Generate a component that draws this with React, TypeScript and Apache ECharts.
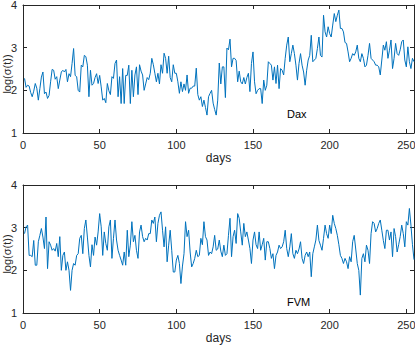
import React, { useEffect, useRef } from 'react';
import * as echarts from 'echarts';

const daxValues = [
  2.28,2.07,2.12,2.1,1.95,1.85,1.98,2.16,2.05,1.77,
  2.04,2.31,2.43,1.92,1.96,1.81,1.88,2.2,2.49,2.47,
  2.26,2.32,2.04,2.24,2.43,2.47,2.43,2.49,2.2,2.39,
  2.32,2.63,2.98,2.35,2.32,2.0,1.96,2.59,2.55,2.82,
  2.79,2.59,1.85,2.47,2.12,2.16,2.3,2.39,2.16,2.35,
  2.08,1.77,1.81,1.71,2.16,1.99,1.9,2.32,2.28,2.63,
  2.71,1.85,2.32,1.69,2.51,1.69,2.35,2.35,2.59,1.69,
  2.47,1.85,2.36,2.55,1.9,2.6,2.45,2.36,2.0,2.15,
  2.3,2.25,2.4,2.75,2.6,2.4,2.2,2.4,2.15,2.6,
  2.4,2.87,2.75,2.4,2.8,2.3,2.2,2.6,2.4,2.4,
  2.2,1.93,2.2,1.97,2.15,2.0,2.36,1.93,2.05,2.05,
  2.1,2.1,2.52,1.9,1.77,1.85,1.62,1.77,1.6,1.42,
  1.85,1.93,2.0,1.7,1.55,1.42,1.77,2.64,2.15,2.55,
  2.55,1.83,2.99,2.95,3.2,2.55,2.75,2.75,2.7,2.2,
  2.45,2.2,2.15,2.3,2.15,2.3,2.4,1.97,2.63,2.9,
  2.2,1.92,2.0,2.04,2.04,1.69,2.24,2.0,2.12,2.67,
  2.63,2.59,2.24,2.55,2.16,2.59,2.04,2.51,2.47,2.36,
  2.75,3.06,3.25,2.67,2.86,3.06,2.86,2.59,2.24,2.63,
  2.86,2.59,2.43,2.12,2.47,2.71,2.82,3.29,2.67,2.71,
  2.75,2.98,3.25,2.82,2.78,3.76,3.37,3.25,3.49,3.33,
  3.25,3.53,3.8,3.61,3.76,3.88,3.45,3.45,3.37,3.12,
  3.1,2.9,2.67,2.75,2.86,2.82,2.9,3.06,2.75,2.67,
  2.86,2.75,2.55,2.59,2.82,3.1,2.75,2.71,2.67,2.59,
  2.59,2.55,2.36,2.71,3.06,2.94,3.14,2.75,2.94,3.18,
  2.51,2.75,3.1,2.86,2.82,2.95,3.14,3.18,2.71,2.55,
  3.02,2.67,2.51,2.75,2.67,
];

const fvmValues = [
  2.86,3.02,3.06,2.35,2.35,2.32,2.7,2.12,2.12,2.67,
  2.82,2.98,2.78,2.51,3.25,2.04,2.67,2.59,2.47,2.51,
  2.45,2.63,2.32,2.79,2.0,2.35,2.43,2.0,2.2,2.0,
  1.53,2.0,2.16,2.12,2.35,2.39,2.75,2.82,2.39,2.98,
  3.18,2.78,2.35,2.08,2.6,2.35,2.78,2.59,2.9,3.33,
  3.02,2.35,2.9,2.63,2.47,3.02,3.18,2.28,2.75,3.18,
  2.71,2.47,2.35,2.24,2.12,2.43,2.12,2.94,2.32,2.59,
  3.14,2.67,2.82,2.47,2.28,2.9,3.06,2.79,2.67,2.75,
  2.71,2.86,2.86,3.18,3.1,3.25,2.67,3.1,3.29,3.37,
  2.94,2.55,3.02,2.2,2.59,2.94,2.47,1.96,1.96,2.24,
  2.35,2.16,1.69,2.1,2.39,3.14,2.79,2.94,2.43,2.08,
  2.16,2.28,2.47,2.32,2.35,2.75,2.6,3.14,2.79,2.71,
  2.35,2.43,2.39,2.55,2.82,2.47,2.5,2.71,2.45,2.32,
  2.59,2.35,2.39,2.82,3.22,2.32,2.79,2.94,2.63,3.33,
  3.22,2.9,2.59,3.1,2.79,2.9,2.71,2.51,2.16,2.71,
  2.9,2.6,2.51,2.9,2.47,2.6,2.75,2.24,2.67,2.67,
  2.51,2.28,2.39,2.04,2.35,2.43,2.59,2.51,2.55,2.67,
  2.94,2.51,2.32,2.55,2.86,2.39,2.28,2.47,2.39,2.5,
  2.67,2.28,2.16,2.35,2.43,2.32,2.43,1.85,2.39,2.55,
  2.71,3.06,2.7,2.59,2.47,2.75,3.06,2.86,2.75,3.06,
  2.86,3.29,3.1,2.98,2.82,2.6,2.35,2.28,2.16,2.28,
  2.2,2.04,2.32,2.2,2.67,2.82,2.5,2.16,2.0,1.42,
  2.28,2.39,2.2,2.59,2.47,2.16,2.86,3.14,3.1,2.9,
  2.98,3.1,3.18,2.94,2.7,2.51,2.94,2.94,2.71,2.9,
  2.32,2.98,2.79,2.43,2.6,2.79,3.06,2.86,2.55,3.14,
  3.06,3.45,3.06,2.6,2.25,
];

const panelNames = ['Dax', 'FVM'];
const xAxisName = 'days';
const yAxisName = 'log(σ(t))';
const xRange = [0, 255];
const yRange = [1, 4];

const FONT = '"Liberation Sans", Arial, Helvetica, sans-serif';
const AXIS_COLOR = '#262626';
const LINE_COLOR = '#0072BD';

export default function App() {
  const ref = useRef<HTMLDivElement>(null);

  useEffect(() => {
    if (!ref.current) return;
    const chart = echarts.init(ref.current, null, { renderer: 'svg' });
    const seriesData = [daxValues, fvmValues];
    const grids = [
      { left: 23, top: 5, width: 391, height: 128, containLabel: false, outerBoundsMode: 'none' },
      { left: 23, top: 185, width: 391, height: 128, containLabel: false, outerBoundsMode: 'none' },
    ];

    const xAxes: any[] = [];
    const yAxes: any[] = [];
    const series: any[] = [];
    const graphics: any[] = [];
    const axisLine = { show: true, onZero: false, lineStyle: { color: AXIS_COLOR, width: 1 } };
    const axisTick = { show: true, inside: true, length: 4, lineStyle: { color: AXIS_COLOR } };

    grids.forEach((gr, g) => {
      xAxes.push({
        gridIndex: g, type: 'value', position: 'bottom',
        min: xRange[0], max: xRange[1], interval: 50,
        axisLine, axisTick,
        axisLabel: { color: AXIS_COLOR, fontSize: 11, fontFamily: FONT, margin: 6, showMaxLabel: false,
          formatter: (v: number) => (v % 50 === 0 ? String(v) : '') },
        splitLine: { show: false },
        name: xAxisName, nameLocation: 'middle', nameGap: 19,
        nameTextStyle: { color: AXIS_COLOR, fontSize: 12, fontFamily: FONT },
      });
      xAxes.push({
        gridIndex: g, type: 'value', position: 'top',
        min: xRange[0], max: xRange[1], interval: 50,
        axisLine, axisTick, axisLabel: { show: false }, splitLine: { show: false },
      });
      yAxes.push({
        gridIndex: g, type: 'value', position: 'left',
        min: yRange[0], max: yRange[1], interval: 1,
        axisLine, axisTick,
        axisLabel: { color: AXIS_COLOR, fontSize: 11, fontFamily: FONT, margin: 6 },
        splitLine: { show: false },
      });
      yAxes.push({
        gridIndex: g, type: 'value', position: 'right',
        min: yRange[0], max: yRange[1], interval: 1,
        axisLine, axisTick, axisLabel: { show: false }, splitLine: { show: false },
      });
      series.push({
        type: 'line', name: panelNames[g],
        xAxisIndex: 2 * g, yAxisIndex: 2 * g,
        data: seriesData[g].map((v, i) => [i + 1, v]),
        showSymbol: false, symbol: 'none',
        lineStyle: { color: LINE_COLOR, width: 1 },
        itemStyle: { color: LINE_COLOR },
        clip: true,
      });
      graphics.push({
        type: 'group', x: 6.5, y: gr.top + gr.height / 2 + 5, rotation: Math.PI / 2,
        children: [{
          type: 'text', x: 0, y: 0,
          style: { text: yAxisName, fill: AXIS_COLOR, font: `11px ${FONT}`, align: 'center', verticalAlign: 'middle' },
        }],
      });
      graphics.push({
        type: 'text', x: 287, y: gr.top + (g === 0 ? 109 : 117),
        style: { text: panelNames[g], fill: '#000', font: `11px ${FONT}`, align: 'left', verticalAlign: 'middle' },
      });
    });

    chart.setOption({
      animation: false,
      backgroundColor: '#ffffff',
      grid: grids,
      xAxis: xAxes,
      yAxis: yAxes,
      series,
      graphic: graphics,
    });
    return () => chart.dispose();
  }, []);

  return <div ref={ref} style={{ position: 'fixed', left: 0, top: 0, width: 415, height: 347 }} />;
}
